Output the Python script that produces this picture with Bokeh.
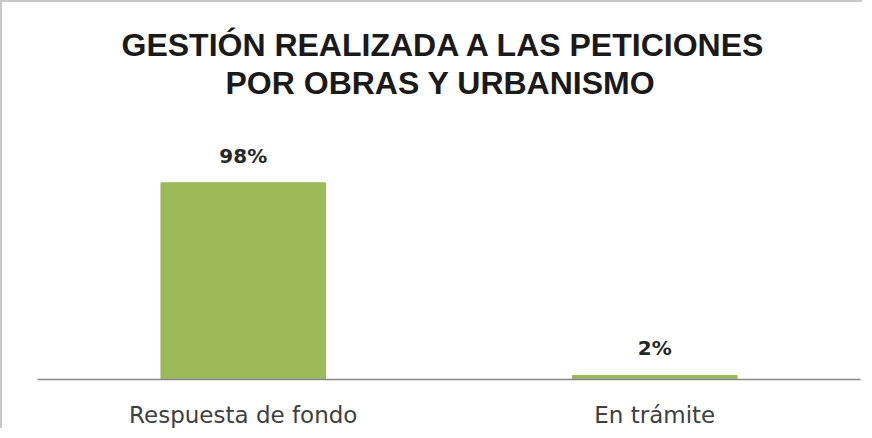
from bokeh.plotting import figure
from bokeh.models import ColumnDataSource, Title, Range1d, LabelSet
from bokeh.core.properties import value
from bokeh.embed import file_html
from bokeh.resources import INLINE

categories = ["Respuesta de fondo", "En trámite"]
values = [98, 2]
labels = ["98%", "2%"]
title_lines = ["GESTIÓN REALIZADA A LAS PETICIONES", "POR OBRAS Y URBANISMO"]
title_offsets = [84, 188]

src = ColumnDataSource(dict(cat=categories, val=values, lab=labels))

FONT = "Liberation Sans"
FONT2 = "DejaVu Sans"

p = figure(x_range=categories, y_range=Range1d(0, 139), width=862, height=428,
           output_backend="svg", toolbar_location=None,
           min_border_left=35, min_border_right=4, min_border_bottom=50)
p.styles = {"border-left": "2px solid #c8c8c8", "border-top": "2px solid #c8c8c8"}

for line, off in reversed(list(zip(title_lines, title_offsets))):
    t = Title(text=line, align="left", text_font=FONT, text_font_size="32px",
              text_font_style="bold", text_color="#1a1a1a", standoff=0, offset=off)
    p.add_layout(t, "above")
p.add_layout(Title(text=" ", text_font_size="18px", standoff=0), "above")

p.vbar(x="cat", top="val", width=0.4, source=src, color="#9bbb59")

p.add_layout(LabelSet(x="cat", y="val", text="lab", source=src, text_align="center",
                      text_baseline="bottom", y_offset=15, text_font=value(FONT2),
                      text_font_size=value("20px"), text_font_style="bold", text_color="#262626"))

p.xgrid.visible = False
p.ygrid.visible = False
p.yaxis.visible = False
p.outline_line_color = None
p.xaxis.axis_line_color = "#868686"
p.xaxis.axis_line_width = 1.5
p.xaxis.major_tick_line_color = None
p.xaxis.minor_tick_line_color = None
p.xaxis.major_label_text_font = FONT2
p.xaxis.major_label_text_font_size = "23px"
p.xaxis.major_label_text_color = "#404040"
p.xaxis.major_label_standoff = 16
p.x_range.range_padding = 0

open("out.html", "w").write(file_html(p, INLINE))
